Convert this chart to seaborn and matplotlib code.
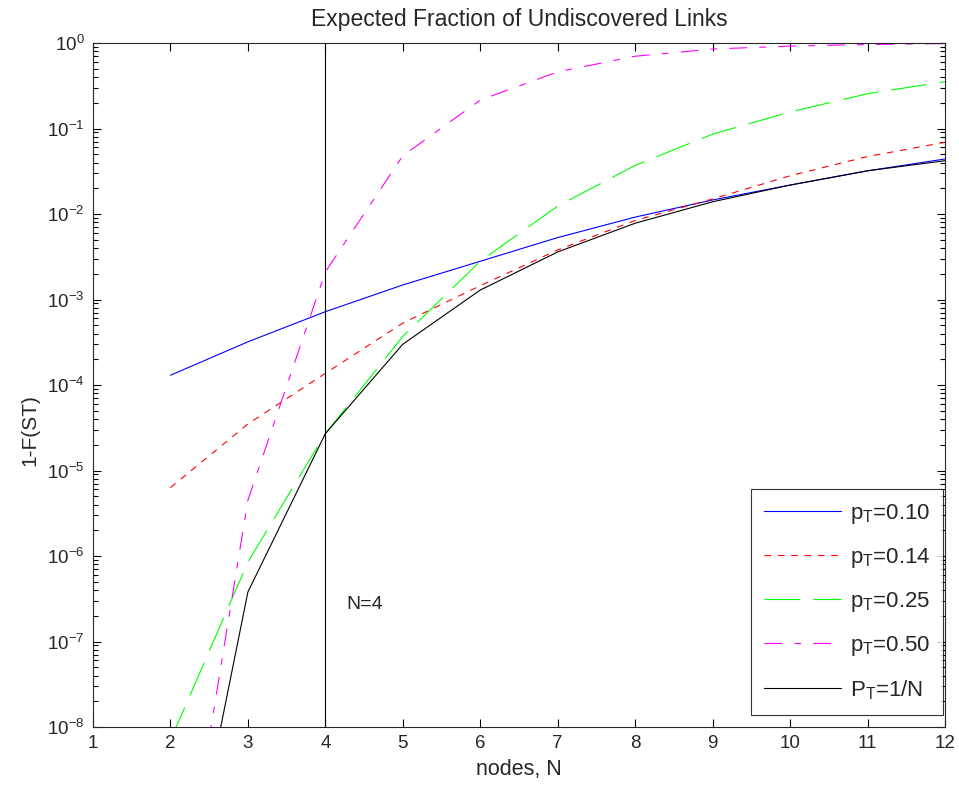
import numpy as np
import pandas as pd
import matplotlib
matplotlib.use("Agg")
import matplotlib.pyplot as plt
import seaborn as sns
from matplotlib.ticker import LogLocator, FixedLocator, NullFormatter

# ---------------- data ----------------
nodes = [2, 3, 4, 5, 6, 7, 8, 9, 10, 11, 12]
p_010 = [1.3e-4, 3.2e-4, 7.2e-4, 1.48e-3, 2.8e-3, 5.3e-3, 9.2e-3, 1.46e-2, 2.18e-2, 3.2e-2, 4.4e-2]
p_014 = [6.3e-6, 3.5e-5, 1.37e-4, 5.3e-4, 1.45e-3, 3.8e-3, 8.4e-3, 1.5e-2, 2.8e-2, 4.7e-2, 6.9e-2]
p_025 = [7e-9, 8.5e-7, 2.7e-5, 3.7e-4, 2.8e-3, 1.24e-2, 3.7e-2, 8.6e-2, 0.156, 0.255, 0.353]
p_050 = [1.2e-11, 4.5e-6, 2.1e-3, 4.8e-2, 0.215, 0.46, 0.70, 0.85, 0.92, 0.96, 0.985]
p_inv = [1.2e-11, 3.8e-7, 2.7e-5, 3.0e-4, 1.29e-3, 3.6e-3, 7.8e-3, 1.39e-2, 2.18e-2, 3.2e-2, 4.2e-2]

series_labels = [r"$\mathregular{p_T}$=0.10", r"$\mathregular{p_T}$=0.14",
                 r"$\mathregular{p_T}$=0.25", r"$\mathregular{p_T}$=0.50",
                 r"$\mathregular{P_T}$=1/N"]
series_values = [p_010, p_014, p_025, p_050, p_inv]
x_ticks = list(range(1, 13))
marker_N = 4
title = "Expected Fraction of Undiscovered Links"
xlabel = "nodes, N"
ylabel = "1-F(ST)"

# ---------------- style ----------------
sns.set_style("ticks")
plt.rcParams["font.family"] = ["Liberation Sans", "DejaVu Sans"]
plt.rcParams["mathtext.fontset"] = "custom"
plt.rcParams["mathtext.rm"] = "Liberation Sans"
plt.rcParams["mathtext.it"] = "Liberation Sans:italic"
plt.rcParams["axes.linewidth"] = 0.8

colors = ["#0000ff", "#ff0000", "#00ff00", "#ff00ff", "#000000"]
dashes = ["", (6, 6), (32, 12), (16, 11, 6, 11), ""]

df = pd.concat([pd.DataFrame({"N": nodes, "val": v, "series": lab})
                for lab, v in zip(series_labels, series_values)], ignore_index=True)

fig = plt.figure(figsize=(9.59, 7.90), dpi=100)
ax = fig.add_axes([93 / 959, 1 - 727 / 790, (945 - 93) / 959, (727 - 43) / 790])

sns.lineplot(data=df, x="N", y="val", hue="series", style="series",
             palette=dict(zip(series_labels, colors)),
             dashes=dict(zip(series_labels, dashes)),
             hue_order=series_labels, style_order=series_labels,
             linewidth=0.8, ax=ax, legend=False, sort=False)

ax.axvline(marker_N, color="#000000", linewidth=0.8)
ax.text(4.27, 2.7e-7, "N=4", fontsize=14, va="center", ha="left")

ax.set_yscale("log")
ax.set_xlim(1, 12)
ax.set_ylim(1e-8, 1e0)
ax.xaxis.set_major_locator(FixedLocator(x_ticks))
ax.yaxis.set_major_locator(LogLocator(base=10, numticks=20))
ax.yaxis.set_minor_locator(LogLocator(base=10, subs=np.arange(2, 10), numticks=20))
ax.yaxis.set_minor_formatter(NullFormatter())
ax.tick_params(which="both", direction="in", top=True, right=True, labelsize=13.5,
               width=0.8, color="black")
ax.tick_params(which="major", length=6, pad=6)
ax.tick_params(which="minor", length=3.5)

ax.set_title(title, fontsize=16.5, pad=12)
ax.set_xlabel(xlabel, fontsize=15.5, labelpad=5)
ax.set_ylabel(ylabel, fontsize=15)
ax.yaxis.set_label_coords(-0.0625, 0.434)

handles = [matplotlib.lines.Line2D([], [], color=c, lw=0.8,
                                   linestyle="-" if d == "" else (0, d))
           for c, d in zip(colors, dashes)]
leg = ax.legend(handles, series_labels, loc="lower right",
                bbox_to_anchor=(0.998, 0.0175), borderaxespad=0,
                fontsize=16, handlelength=3.45, labelspacing=0.9,
                frameon=True, fancybox=False, edgecolor="black",
                borderpad=0.6, handletextpad=0.4)
leg.get_frame().set_linewidth(0.8)

fig.savefig("out.png", dpi=100, facecolor="white")
